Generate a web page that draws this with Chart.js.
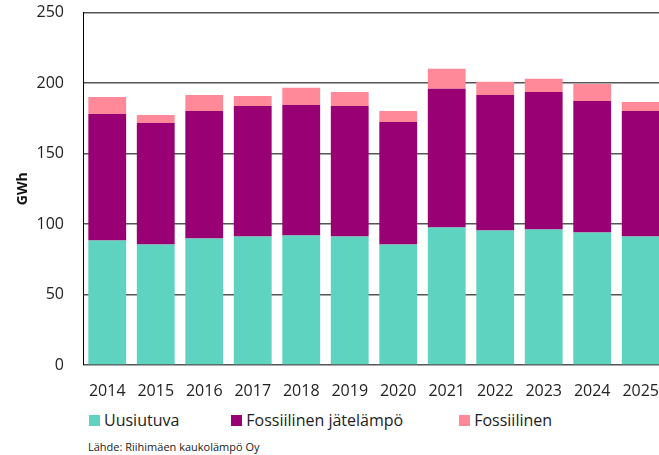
<!DOCTYPE html>
<html>
<head>
<meta charset="utf-8">
<script src="https://cdn.jsdelivr.net/npm/chart.js@4"></script>
<style>
  html, body { margin: 0; padding: 0; background: #fff; overflow: hidden; width: 659px; height: 455px; }
  body { font-family: "Open Sans", sans-serif; color: #222; position: relative; }
  .wrap { position: absolute; left: 0; top: 0; width: 668px; height: 400px; }
  .legend { position: absolute; left: 89px; top: 409px; display: flex; gap: 52px; font-size: 16px; line-height: 22px; }
  .legend span.item { display: flex; align-items: center; }
  .legend span.item:nth-child(3) { margin-left: 4px; }
  .legend i { display: inline-block; width: 11px; height: 11px; margin-right: 4px; }
  .source { position: absolute; left: 88px; top: 439px; font-size: 11px; color: #222; }
</style>
</head>
<body>
<div class="wrap"><canvas id="chart"></canvas></div>
<div class="legend" id="legend"></div>
<div class="source">Lähde: Riihimäen kaukolämpö Oy</div>
<script>
// vuodet ja sarjat (GWh)
const years = ["2014", "2015", "2016", "2017", "2018", "2019", "2020", "2021", "2022", "2023", "2024", "2025"];
const seriesNames = ["Uusiutuva", "Fossiilinen jätelämpö", "Fossiilinen"];
const uusiutuva = [88.3, 85.5, 89.7, 91.2, 91.9, 91.2, 85.5, 97.6, 95.4, 96.2, 94.0, 91.2];
const jatelampo = [89.7, 86.2, 90.5, 92.6, 92.6, 92.6, 86.9, 98.3, 96.2, 97.5, 93.3, 89.0];
const fossiilinen = [12.2, 5.7, 11.4, 7.1, 12.1, 9.9, 7.8, 14.2, 9.3, 9.3, 12.1, 6.4];
const yTicks = [0, 50, 100, 150, 200, 250];

const colors = ["#5dd3c0", "#990073", "#ff8899"];

document.addEventListener("DOMContentLoaded", function () {
    const legend = document.getElementById("legend");
    seriesNames.forEach(function (name, i) {
        const item = document.createElement("span");
        item.className = "item";
        item.innerHTML = '<i style="background:' + colors[i] + '"></i>' + name;
        legend.appendChild(item);
    });

    const ctx = document.getElementById("chart").getContext("2d");
    new Chart(ctx, {
        type: "bar",
        data: {
            labels: years,
            datasets: [uusiutuva, jatelampo, fossiilinen].map(function (d, i) {
                return {
                    label: seriesNames[i],
                    data: d,
                    backgroundColor: colors[i],
                    borderWidth: 0,
                    categoryPercentage: 1,
                    barPercentage: 0.78
                };
            })
        },
        options: {
            responsive: true,
            maintainAspectRatio: false,
            animation: false,
            layout: { padding: 0 },
            plugins: {
                legend: { display: false },
                tooltip: { enabled: false }
            },
            scales: {
                x: {
                    stacked: true,
                    grid: { display: false },
                    border: { display: false },
                    ticks: {
                        color: "#222",
                        font: { family: "Open Sans", size: 16 },
                        padding: 9,
                        maxRotation: 0,
                        autoSkip: false
                    },
                    afterFit: function (scale) { scale.height = 35; }
                },
                y: {
                    stacked: true,
                    min: 0,
                    max: 250,
                    afterBuildTicks: function (scale) {
                        scale.ticks = yTicks.map(function (v) { return { value: v }; });
                    },
                    grid: { color: "#555", lineWidth: 1.4, drawTicks: true, tickLength: 16, tickColor: "rgba(0,0,0,0)" },
                    border: { display: true, color: "#000", width: 1 },
                    ticks: {
                        color: "#222",
                        font: { family: "Open Sans", size: 16 },
                        padding: 3
                    },
                    title: {
                        display: true,
                        text: "GWh",
                        color: "#111",
                        font: { family: "Open Sans", size: 14, weight: "bold" },
                        padding: { top: 15, bottom: 0 }
                    },
                    afterFit: function (scale) { scale.width = 83; }
                }
            }
        }
    });
});
</script>
</body>
</html>
